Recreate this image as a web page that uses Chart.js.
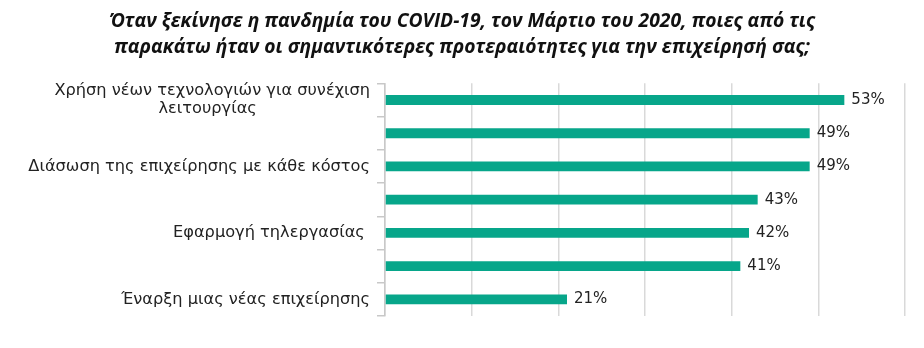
<!DOCTYPE html>
<html>
<head>
<meta charset="utf-8">
<script src="https://cdn.jsdelivr.net/npm/chart.js@4"></script>
<style>
html,body{margin:0;padding:0;background:#fff;}
#wrap{width:924px;height:348px;}
</style>
</head>
<body>
<div id="wrap"><canvas id="c" width="924" height="348"></canvas></div>
<script>
const titleLines = [
  'Όταν ξεκίνησε η πανδημία του COVID-19, τον Μάρτιο του 2020, ποιες από τις',
  'παρακάτω ήταν οι σημαντικότερες προτεραιότητες για την επιχείρησή σας;'
];
const categories = [
  ['Χρήση νέων τεχνολογιών για συνέχιση', 'λειτουργίας' + '\u00a0'.repeat(22)],
  '',
  'Διάσωση της επιχείρησης με κάθε κόστος',
  '',
  'Εφαρμογή τηλεργασίας ',
  '',
  'Έναρξη μιας νέας επιχείρησης'
];
const values = [53, 49, 49, 43, 42, 41, 21];
const axisMax = 60;
const axisStep = 10;

const labelPlugin = {
  id: 'valueLabels',
  afterDatasetsDraw(chart) {
    const ctx = chart.ctx;
    const meta = chart.getDatasetMeta(0);
    ctx.save();
    ctx.font = '15px "DejaVu Sans"';
    ctx.fillStyle = '#222';
    ctx.textAlign = 'left';
    ctx.textBaseline = 'middle';
    meta.data.forEach((bar, i) => {
      ctx.fillText(values[i] + '%', bar.x + 7, bar.y);
    });
    ctx.restore();
  }
};

new Chart(document.getElementById('c'), {
  type: 'bar',
  data: {
    labels: categories,
    datasets: [{
      data: values,
      backgroundColor: '#07a68a',
      categoryPercentage: 0.3,
      barPercentage: 1.0
    }]
  },
  options: {
    indexAxis: 'y',
    responsive: false,
    animation: false,
    layout: { padding: { left: 19, right: 19, top: 0, bottom: 32 } },
    plugins: {
      legend: { display: false },
      tooltip: { enabled: false },
      title: {
        display: true,
        text: titleLines,
        color: '#111',
        font: { family: '"Open Sans"', size: 19.3, weight: 'bold', style: 'italic', lineHeight: 1.38 },
        padding: { top: 8, bottom: 22 }
      }
    },
    scales: {
      x: {
        min: 0, max: axisMax,
        ticks: { display: false, stepSize: axisStep },
        grid: { color: '#d9d9d9', lineWidth: 1.5, drawTicks: false },
        border: { display: false }
      },
      y: {
        afterFit(s) { s.width = 366; },
        ticks: {
          autoSkip: false,
          color: '#222',
          padding: 7,
          font: { family: '"DejaVu Sans"', size: 16.2, lineHeight: 1.08 }
        },
        grid: { drawOnChartArea: false, color: '#c8c8c8', tickLength: 8, lineWidth: 1.5 },
        border: { color: '#c8c8c8', width: 1.5 }
      }
    }
  },
  plugins: [labelPlugin]
});
</script>
</body>
</html>
